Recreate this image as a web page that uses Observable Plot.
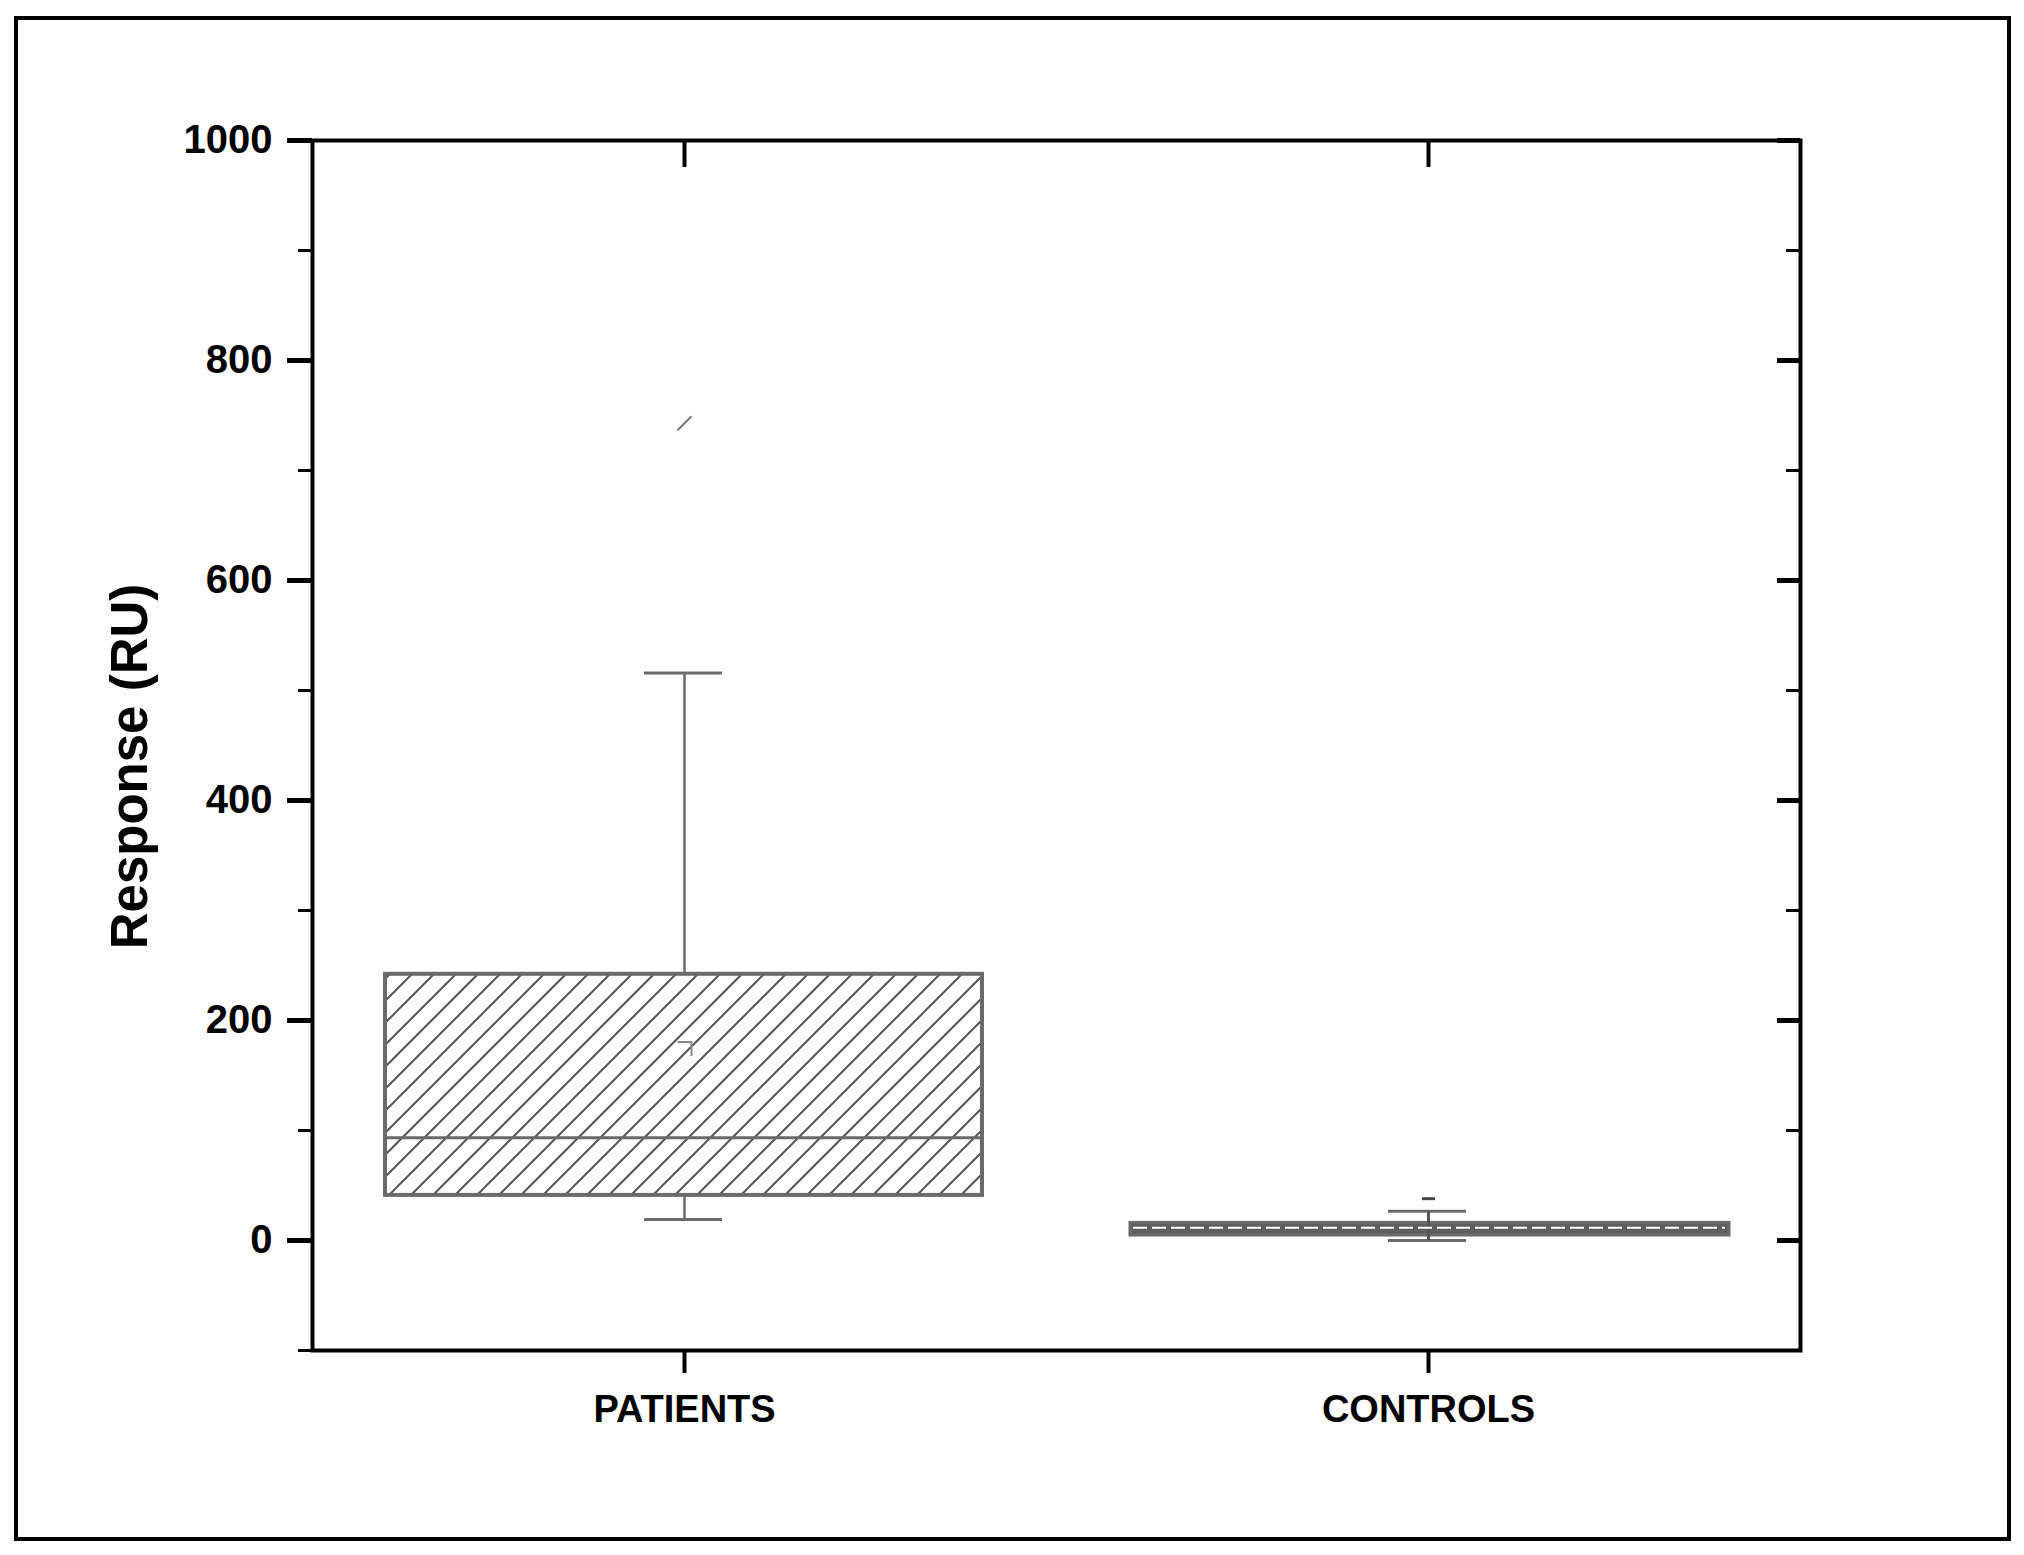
<!DOCTYPE html>
<html>
<head>
<meta charset="utf-8">
<script src="https://cdn.jsdelivr.net/npm/d3@7"></script>
<script src="https://cdn.jsdelivr.net/npm/@observablehq/plot@0.6"></script>
<style>
  html, body { margin: 0; padding: 0; background: #ffffff; }
  #page { position: relative; width: 2024px; height: 1555px; overflow: hidden; background: #fff; }
  #outer { position: absolute; left: 14px; top: 16px; width: 1989px; height: 1517px; border: 4px solid #000; box-sizing: content-box; }
  #chart { position: absolute; left: 0; top: 0; }
</style>
</head>
<body>
<div id="page">
  <div id="outer"></div>
  <div id="chart"></div>
</div>
<script>
// ---- data ----
const categories    = ["PATIENTS", "CONTROLS"];
const q1Values      = [41, 4.5];
const medianValues  = [93.5, 11.5];
const q3Values      = [242, 16];
const whiskerLow    = [19, 0];
const whiskerHigh   = [516, 26.5];
const meanValues    = [174, null];
const outlierValues = [743, 38];
const majorTicks    = [0, 200, 400, 600, 800, 1000];
const minorTicks    = [-100, 100, 300, 500, 700, 900];
const yLabel        = "Response (RU)";

const boxes = categories.map((c, i) => ({
  cat: c, q1: q1Values[i], median: medianValues[i], q3: q3Values[i],
  lo: whiskerLow[i], hi: whiskerHigh[i], mean: meanValues[i], out: outlierValues[i]
}));
const patients = boxes.filter(d => d.cat === "PATIENTS");
const controls = boxes.filter(d => d.cat === "CONTROLS");

// custom marker shapes (the look of the original markers)
const symSlash  = { draw(ctx, size) { const s = Math.sqrt(size / Math.PI); ctx.moveTo(-s, s); ctx.lineTo(s, -s); } };
const symDash   = { draw(ctx, size) { const s = Math.sqrt(size / Math.PI); ctx.moveTo(-s, 0); ctx.lineTo(s, 0); } };
const symCorner = { draw(ctx, size) { const s = Math.sqrt(size / Math.PI); ctx.moveTo(-s, -s); ctx.lineTo(s, -s); ctx.lineTo(s, s); } };

const W = 2024, H = 1555;
const mL = 312, mR = 224, mT = 140, mB = 205;
const frameW = W - mL - mR;   // 1488
const frameH = H - mT - mB;   // 1210

const grey = "#6a6a6a";
const boxInset = 73;
const capInset = 332;

const chart = Plot.plot({
  width: W,
  height: H,
  marginLeft: mL,
  marginRight: mR,
  marginTop: mT,
  marginBottom: mB,
  style: { fontFamily: "'Liberation Sans', Arial, sans-serif", background: "transparent", color: "#000", overflow: "visible" },
  x: { type: "band", domain: categories, padding: 0, axis: null },
  y: { domain: [-100, 1000], axis: null },
  marks: [
    // whiskers
    Plot.ruleX(boxes, { x: "cat", y1: "q3", y2: "hi", stroke: grey, strokeWidth: 2.5 }),
    Plot.ruleX(boxes, { x: "cat", y1: "lo", y2: "q1", stroke: grey, strokeWidth: 2.5 }),
    Plot.tickY(boxes, { x: "cat", y: "hi", stroke: grey, strokeWidth: 3, insetLeft: capInset, insetRight: capInset + 2 }),
    Plot.tickY(boxes, { x: "cat", y: "lo", stroke: grey, strokeWidth: 3, insetLeft: capInset, insetRight: capInset + 2 }),
    // boxes
    Plot.rect(patients, { x: "cat", y1: "q1", y2: "q3", fill: "url(#hatch)", stroke: grey, strokeWidth: 4, insetLeft: boxInset, insetRight: boxInset + 1 }),
    Plot.rect(controls, { x: "cat", y1: "q1", y2: "q3", fill: "#5e5e5e", stroke: grey, strokeWidth: 3, insetLeft: boxInset + 1, insetRight: boxInset - 2 }),
    // whisker through the thin controls box
    Plot.ruleX(controls, { x: "cat", y1: "lo", y2: "hi", stroke: "#555", strokeWidth: 3 }),
    // medians
    Plot.tickY(patients, { x: "cat", y: "median", stroke: grey, strokeWidth: 3, insetLeft: boxInset, insetRight: boxInset + 1 }),
    Plot.tickY(controls, { x: "cat", y: "median", stroke: "#ffffff", strokeWidth: 2, strokeDasharray: "14,5", insetLeft: boxInset + 4, insetRight: boxInset + 2 }),
    // mean marker
    Plot.dot(boxes.filter(d => d.mean != null), { x: "cat", y: "mean", symbol: symCorner, r: 7, stroke: "#8a8a8a", strokeWidth: 2, fill: "none" }),
    // outliers
    Plot.dot(patients, { x: "cat", y: "out", symbol: symSlash, r: 7, stroke: "#777", strokeWidth: 2, fill: "none" }),
    Plot.dot(controls, { x: "cat", y: "out", symbol: symDash, r: 6.5, stroke: "#444", strokeWidth: 3, fill: "none" }),
    // frame
    Plot.frame({ stroke: "#000", strokeWidth: 4 }),
    // left axis ticks (outward) and labels
    Plot.tickY(majorTicks, { y: d => d, insetLeft: -25, insetRight: frameW, stroke: "#000", strokeWidth: 5 }),
    Plot.tickY(minorTicks, { y: d => d, insetLeft: -14, insetRight: frameW, stroke: "#000", strokeWidth: 3 }),
    Plot.text(majorTicks, { y: d => d, text: d => String(d), frameAnchor: "left", textAnchor: "end", dx: -40, fontSize: 40, fontWeight: "bold", fill: "#000" }),
    // right axis ticks (inward)
    Plot.tickY(majorTicks, { y: d => d, insetLeft: frameW - 23, insetRight: 0, stroke: "#000", strokeWidth: 5 }),
    Plot.tickY(minorTicks, { y: d => d, insetLeft: frameW - 14, insetRight: 0, stroke: "#000", strokeWidth: 3 }),
    // bottom axis ticks (outward) and labels
    Plot.tickX(categories, { x: d => d, insetTop: frameH, insetBottom: -23, stroke: "#000", strokeWidth: 4 }),
    Plot.text(categories, { x: d => d, text: d => d, frameAnchor: "bottom", textAnchor: "middle", lineAnchor: "top", dy: 45, fontSize: 38, fontWeight: "bold", fill: "#000" }),
    // top axis ticks (inward)
    Plot.tickX(categories, { x: d => d, insetTop: 0, insetBottom: frameH - 27, stroke: "#000", strokeWidth: 4 }),
    // y label
    Plot.text([yLabel], { text: d => d, frameAnchor: "left", textAnchor: "middle", lineAnchor: "middle", rotate: -90, dx: -182, dy: 21, fontSize: 51, fontWeight: "bold", fill: "#000" })
  ]
});

// hatch pattern definition for the patients box
const ns = "http://www.w3.org/2000/svg";
const defs = document.createElementNS(ns, "defs");
defs.innerHTML = `<pattern id="hatch" patternUnits="userSpaceOnUse" width="22" height="22">
  <path d="M-5.5,5.5 L5.5,-5.5 M0,22 L22,0 M16.5,27.5 L27.5,16.5" stroke="#555" stroke-width="2" fill="none"/>
</pattern>`;
chart.insertBefore(defs, chart.firstChild);

document.getElementById("chart").appendChild(chart);
</script>
</body>
</html>
